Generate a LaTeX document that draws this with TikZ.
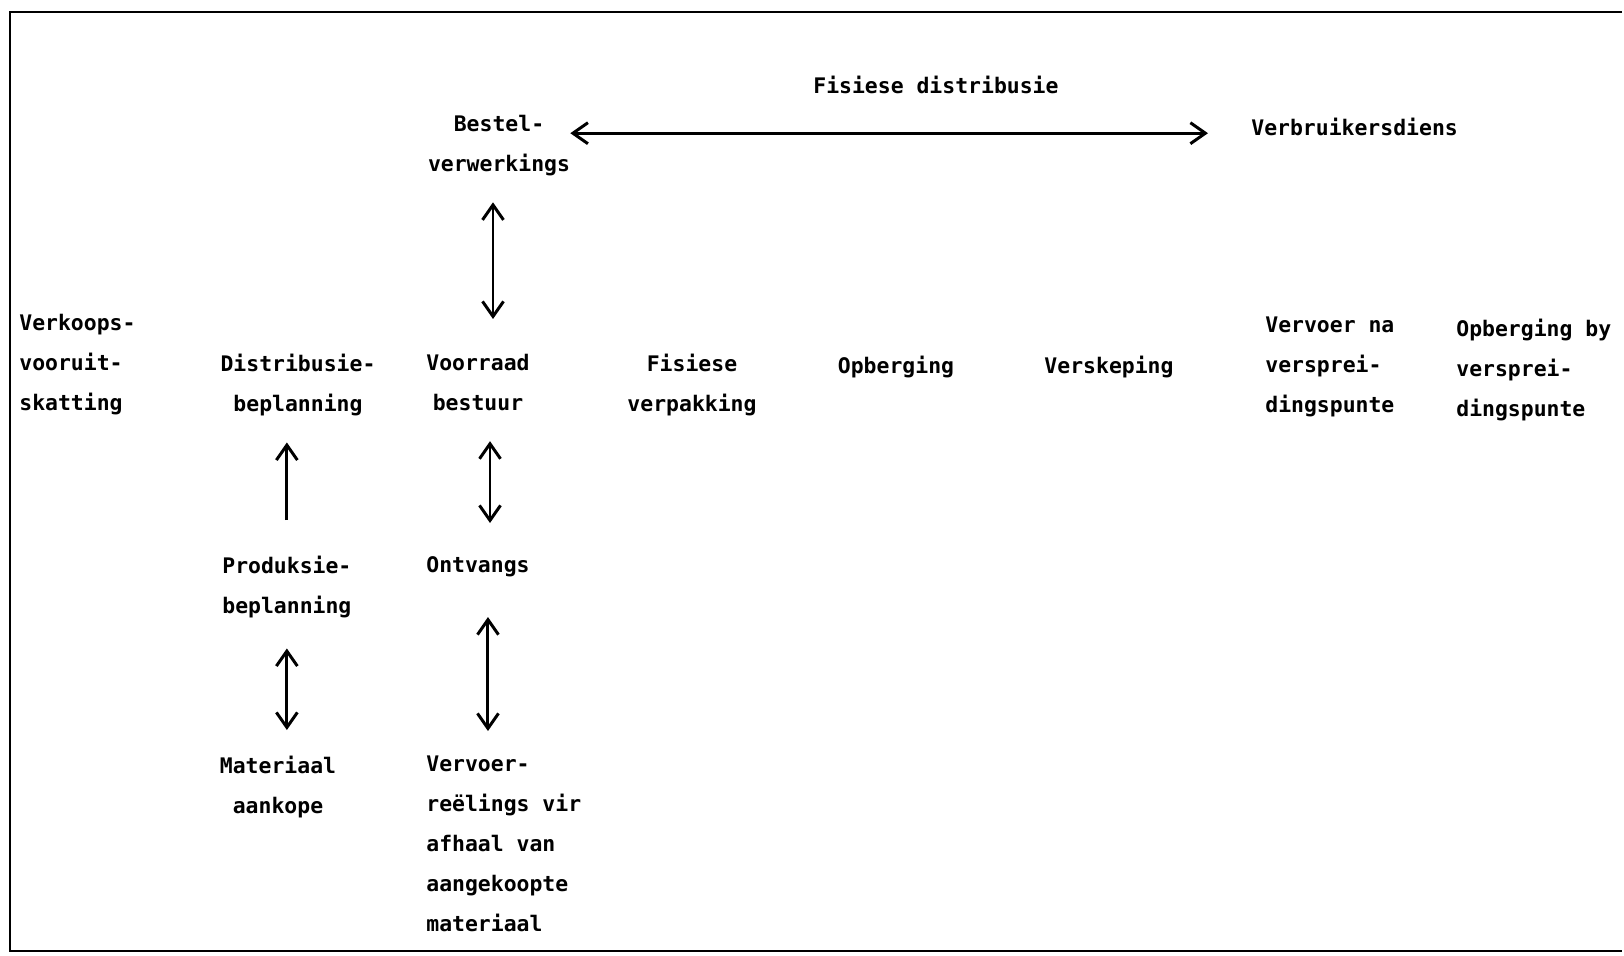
\documentclass[tikz,border=0pt]{standalone}
\usepackage{fontspec}
\newfontfamily\typefont{DejaVu Sans Mono}
\usetikzlibrary{calc,arrows.meta}

\begin{document}
\begin{tikzpicture}[x=0.02cm,y=-0.02cm,
    lbl/.style={inner sep=0pt, font=\typefont\bfseries\fontsize{12.2}{22.7}\selectfont},
    twoway/.style={line width=1.7pt, {Straight Barb[length=3mm,width=4.2mm]}-{Straight Barb[length=3mm,width=4.2mm]}},
    oneway/.style={line width=1.7pt, -{Straight Barb[length=3mm,width=4.2mm]}}]
    \useasboundingbox (0,0) rectangle (1624,956);

    % Frame (open on the right)
    \draw[line width=1.5pt] (1622,12) -- (10,12) -- (10,951) -- (1622,951);

    % Top row
    \node[lbl, anchor=north west] (fis) at (813,76) {Fisiese distribusie};
    \node[lbl, anchor=north, align=center] (best) at (499,115) {Bestel-\\verwerkings};
    \node[lbl, anchor=north west] (verb) at (1251,118) {Verbruikersdiens};

    % Middle row
    \node[lbl, anchor=north west, align=left] (verk) at (19,314) {Verkoops-\\vooruit-\\skatting};
    \node[lbl, anchor=north, align=center] (dist) at (298,354) {Distribusie-\\beplanning};
    \node[lbl, anchor=north, align=center] (voor) at (478,354) {Voorraad\\bestuur};
    \node[lbl, anchor=north, align=center] (fver) at (692,354) {Fisiese\\verpakking};
    \node[lbl, anchor=north] (opb) at (896,356) {Opberging};
    \node[lbl, anchor=north] (vers) at (1109,356) {Verskeping};
    \node[lbl, anchor=north west, align=left] (vvn) at (1265,317) {Vervoer na\\versprei-\\dingspunte};
    \node[lbl, anchor=north west, align=left] (opbv) at (1456,319) {Opberging by\\versprei-\\dingspunte};

    % Lower rows
    \node[lbl, anchor=north west, align=left] (prod) at (222,556) {Produksie-\\beplanning};
    \node[lbl, anchor=north west] (ontv) at (426,556) {Ontvangs};
    \node[lbl, anchor=north, align=center] (mat) at (278,756) {Materiaal\\aankope};
    \node[lbl, anchor=north west, align=left] (vrv) at (426,756) {Vervoer-\\reëlings vir\\afhaal van\\aangekoopte\\materiaal};

    % Arrows
    \draw[twoway] ($(best.east |- verb.west)+(0,6)$) -- ($(verb.west)+(-43,6)$);
    \draw[twoway] ($(best.south)+(-6,26)$) -- ($(best.south |- voor.north)+(-6,-35)$);
    \draw[oneway] ($(prod.north)+(0,-36)$) -- ($(prod.north |- dist.south)+(0,26)$);
    \draw[twoway] ($(voor.south)+(12,30)$) -- ($(voor.south |- ontv.north)+(12,-33)$);
    \draw[twoway] ($(prod.south)+(0,30)$) -- ($(prod.south |- mat.north)+(0,-26)$);
    \draw[twoway] ($(ontv.south)+(10,40)$) -- ($(ontv.south |- vrv.north)+(10,-25)$);
\end{tikzpicture}
\end{document}
